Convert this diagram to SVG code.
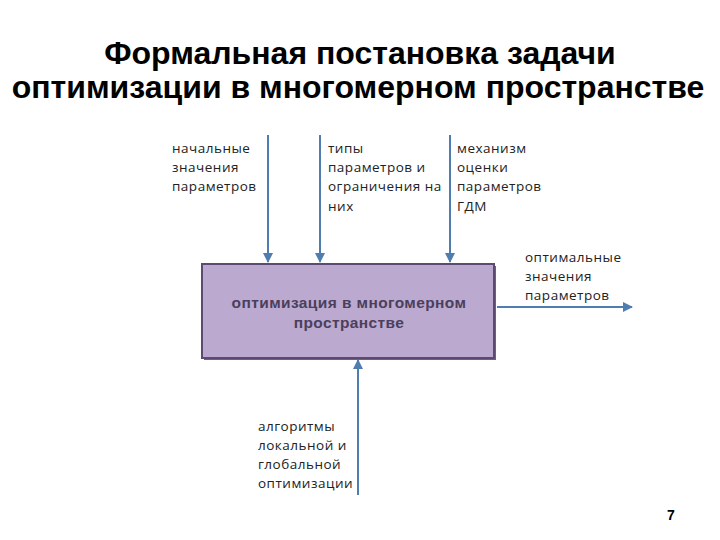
<svg xmlns="http://www.w3.org/2000/svg" width="720" height="540" viewBox="0 0 720 540">
<style>
.title{font-family:"Liberation Sans",Arial,sans-serif;font-weight:bold;font-size:32px;fill:#000;text-anchor:middle}
.lbl{font-family:"Open Sans","Liberation Sans",sans-serif;font-size:13.5px;fill:#222;letter-spacing:0.5px}
.box{fill:#BBA9D0;stroke:#5B4B73;stroke-width:2}
.boxt{font-family:"Liberation Sans",Arial,sans-serif;font-weight:bold;font-size:15.5px;fill:#4B3F5C;text-anchor:middle;letter-spacing:0.4px}
.ar{stroke:#4F7DB0;stroke-width:2;fill:none;marker-end:url(#ah)}
.pg{font-family:"Liberation Sans",Arial,sans-serif;font-size:14px;font-weight:bold;fill:#000}
</style>
<defs>
<marker id="ah" viewBox="0 0 10 10" refX="9" refY="5" markerWidth="5" markerHeight="5" orient="auto" markerUnits="strokeWidth">
<path d="M0,0 L10,5 L0,10 z" fill="#4F7DB0"/>
</marker>
</defs>
<rect width="720" height="540" fill="#fff"/>
<g id="title">
<text class="title" x="360" y="64">Формальная постановка задачи</text>
<text class="title" x="358" y="98">оптимизации в многомерном пространстве</text>
</g>
<g id="connectors">
<line class="ar" x1="268" y1="135" x2="268" y2="262"/>
<line class="ar" x1="320" y1="135" x2="320" y2="262"/>
<line class="ar" x1="450" y1="135" x2="450" y2="262"/>
<line class="ar" x1="497" y1="307" x2="632" y2="307"/>
<line class="ar" x1="358" y1="495" x2="358" y2="360"/>
</g>
<g id="box">
<rect x="204" y="266" width="292" height="94" fill="#6E6080"/>
<rect class="box" x="202" y="264" width="292" height="94"/>
<text class="boxt" x="349" y="308">оптимизация в многомерном</text>
<text class="boxt" x="349" y="328">пространстве</text>
</g>
<g id="in1">
<text class="lbl" x="172" y="153">начальные</text>
<text class="lbl" x="172" y="172">значения</text>
<text class="lbl" x="172" y="191">параметров</text>
</g>
<g id="in2">
<text class="lbl" x="328" y="153">типы</text>
<text class="lbl" x="328" y="172">параметров и</text>
<text class="lbl" x="328" y="191">ограничения на</text>
<text class="lbl" x="328" y="211">них</text>
</g>
<g id="in3">
<text class="lbl" x="457" y="153">механизм</text>
<text class="lbl" x="457" y="172">оценки</text>
<text class="lbl" x="457" y="191">параметров</text>
<text class="lbl" x="457" y="211">ГДМ</text>
</g>
<g id="out">
<text class="lbl" x="525" y="262">оптимальные</text>
<text class="lbl" x="525" y="281">значения</text>
<text class="lbl" x="525" y="300">параметров</text>
</g>
<g id="mech">
<text class="lbl" x="258" y="431">алгоритмы</text>
<text class="lbl" x="258" y="450">локальной и</text>
<text class="lbl" x="258" y="469">глобальной</text>
<text class="lbl" x="258" y="488">оптимизации</text>
</g>
<text class="pg" x="667" y="520">7</text>
</svg>
